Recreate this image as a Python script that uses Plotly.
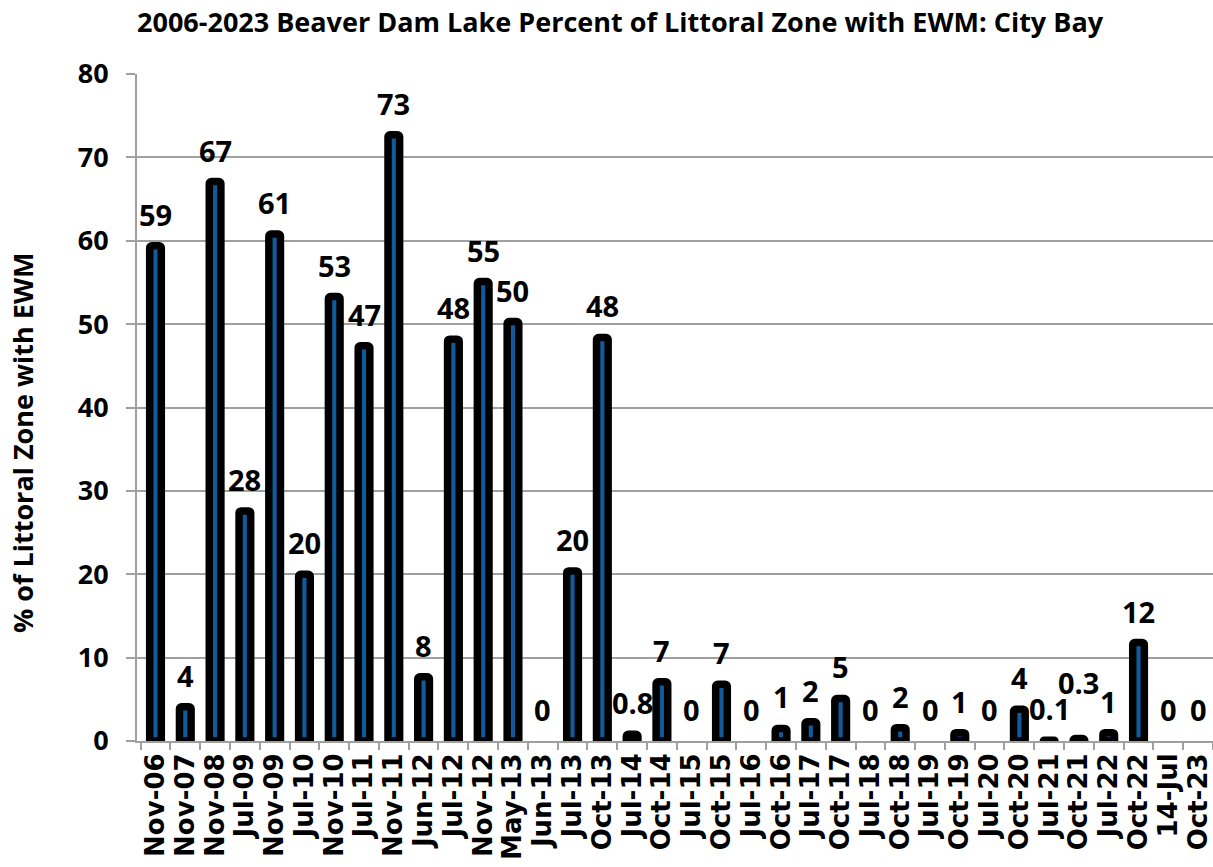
import plotly.graph_objects as go

# sampling dates (category axis)
dates = ["Nov-06", "Nov-07", "Nov-08", "Jul-09", "Nov-09", "Jul-10", "Nov-10", "Jul-11",
         "Nov-11", "Jun-12", "Jul-12", "Nov-12", "May-13", "Jun-13", "Jul-13", "Oct-13",
         "Jul-14", "Oct-14", "Jul-15", "Oct-15", "Jul-16", "Oct-16", "Jul-17", "Oct-17",
         "Jul-18", "Oct-18", "Jul-19", "Oct-19", "Jul-20", "Oct-20", "Jul-21", "Oct-21",
         "Jul-22", "Oct-22", "14-Jul", "Oct-23"]

# % of littoral zone with EWM (bar heights)
pct_ewm = [59.4, 4.1, 67.1, 27.6, 60.8, 20.0, 53.3, 47.4,
           72.7, 7.7, 48.2, 55.1, 50.3, 0, 20.4, 48.4,
           0.8, 7.1, 0, 6.8, 0, 1.5, 2.3, 5.1,
           0, 1.6, 0, 1.0, 0, 3.8, 0.1, 0.3,
           1.0, 11.8, 0, 0]

# data labels as printed on the chart
pct_labels = ["59", "4", "67", "28", "61", "20", "53", "47",
              "73", "8", "48", "55", "50", "0", "20", "48",
              "0.8", "7", "0", "7", "0", "1", "2", "5",
              "0", "2", "0", "1", "0", "4", "0.1", "0.3",
              "1", "12", "0", "0"]

FONT = "Open Sans"

fig = go.Figure()

# zero bars are left empty so no outline gets drawn for them
bar_y = [v if v > 0 else None for v in pct_ewm]

fig.add_trace(go.Bar(
    x=dates, y=bar_y,
    width=0.39,
    marker=dict(color="#0F5B9C", line=dict(color="black", width=7.5), cornerradius=2),
    hoverinfo="x+y",
))

# the 0.3 label is pushed up in the original to clear its neighbours
extra_lift = {"Oct-21": 25}

for d, v, lab in zip(dates, pct_ewm, pct_labels):
    fig.add_annotation(
        x=d, y=v, text=f"<b>{lab}</b>",
        showarrow=False, yanchor="bottom", yshift=10 + extra_lift.get(d, 0),
        font=dict(family=FONT, size=29, color="black"),
    )

# y axis title (placed by hand, sits a bit low like the original)
fig.add_annotation(
    xref="paper", yref="paper", x=-0.107, y=0.448,
    text="<b>% of Littoral Zone with EWM</b>", textangle=-90,
    showarrow=False, xanchor="center", yanchor="middle",
    font=dict(family=FONT, size=27, color="black"),
)

fig.update_layout(
    width=1213, height=867,
    margin=dict(l=137, r=0, t=74, b=126),
    paper_bgcolor="white", plot_bgcolor="white",
    showlegend=False,
    title=dict(
        text="<b>2006-2023 Beaver Dam Lake Percent of Littoral Zone with EWM: City Bay</b>",
        font=dict(family=FONT, size=27, color="black"),
        x=137 / 1213, xanchor="left", xref="container",
        y=0.985, yanchor="top", yref="container",
    ),
    xaxis=dict(
        type="category",
        tickmode="array", tickvals=dates, ticktext=dates,
        tickangle=-90,
        tickfont=dict(family="DejaVu Sans", size=26, color="black", weight="bold"),
        showline=True, linecolor="#A0A0A0", linewidth=2,
        ticks="outside", tickson="boundaries", ticklen=7, tickcolor="#A0A0A0", tickwidth=2,
        showgrid=False,
    ),
    yaxis=dict(
        range=[0, 80], dtick=10,
        tickfont=dict(family=FONT, size=27, color="black", weight="bold"),
        ticklabelstandoff=12,
        showline=True, linecolor="#A0A0A0", linewidth=2,
        ticks="outside", ticklen=9, tickcolor="#A0A0A0", tickwidth=2,
        showgrid=True, gridcolor="#A0A0A0", gridwidth=2,
        zeroline=False,
    ),
)

fig.write_html("out.html", config={"displayModeBar": False},
               post_script="document.body.style.margin='0';")
